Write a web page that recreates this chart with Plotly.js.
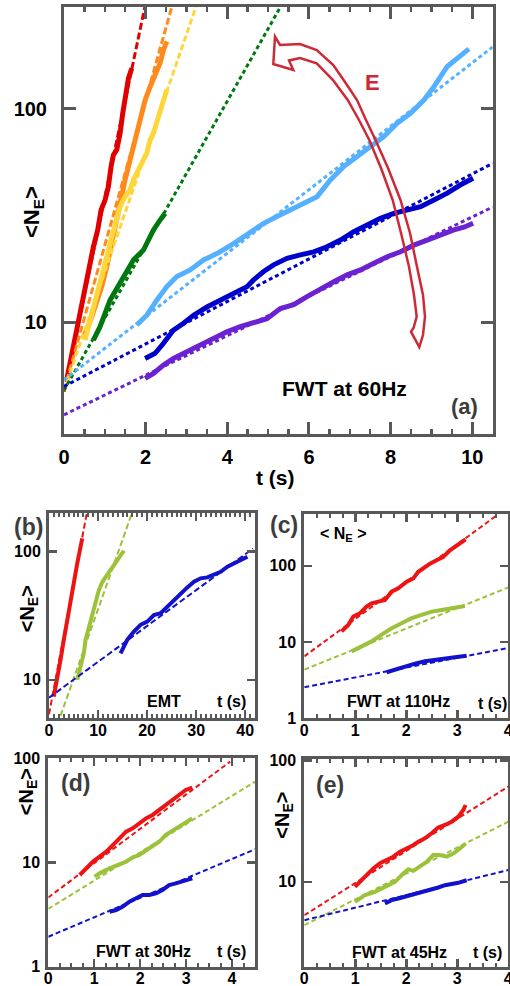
<!DOCTYPE html>
<html><head><meta charset="utf-8">
<script src="https://cdn.plot.ly/plotly-3.0.1.min.js"></script>
<style>html,body{margin:0;padding:0;background:#fff}#plot{width:510px;height:986px}</style>
</head><body><div id="plot"></div>
<script>
// ---------- Panel (a): FWT at 60Hz ----------
const a_red_t = [0.065,0.147,0.27,0.352,0.433,0.54,0.638,0.72,0.826,0.908,1.006,1.087,1.153,1.21,1.292,1.374,1.439,1.505,1.578,1.66];
const a_red_n = [5.37,6.43,8.57,10.3,12.7,15.2,18.9,22.6,27.1,33.6,37.4,43.2,53.7,60.8,64.3,76.9,95.4,118,139,155];
const a_orange_t = [0.474,0.556,0.679,0.801,0.924,1.047,1.128,1.251,1.333,1.415,1.496,1.578,1.66,1.742,1.823,1.905,1.987,2.11,2.232,2.355,2.437,2.518];
const a_orange_n = [8.57,9.2,10.6,12.3,14.7,18.2,21.8,27.1,32.4,40.3,46.5,53.7,62,71.6,85.7,98.9,110,127,147,164,189,207];
const a_yellow_t = [0.515,0.638,0.76,0.883,1.006,1.128,1.251,1.374,1.496,1.619,1.701,1.823,1.946,2.028,2.11,2.191,2.314,2.437,2.518];
const a_yellow_n = [8.26,10.3,12.7,15.8,18.9,23.4,29.1,34.8,38.8,41.7,46.5,51.8,57.7,62,71.6,76.9,92,110,123];
const a_green_t = [0.72,0.883,1.128,1.455,1.70,1.946,2.191,2.355,2.477];
const a_green_n = [8.26,9.55,12.7,16.4,19.6,21.8,27.1,30.2,32.4];
const a_lblue_t = [1.783,2.028,2.273,2.518,2.764,3.091,3.418,3.745,4.154,4.481,4.89,5.217,5.544,5.871,6.198,6.525,6.852,7.179,7.506,7.833,8.16,8.487,8.814,9.06,9.387,9.714,9.918];
const a_lblue_n = [9.72,10.8,12.7,14.7,16.4,17.6,19.6,21.0,23.4,25.7,29.1,31.3,33.6,36.1,38.8,46.5,53.7,59.8,66.6,74.2,85.7,95.4,110,127,158,179,191];
const a_blue_t = [1.987,2.232,2.437,2.682,2.927,3.173,3.5,3.827,4.154,4.481,4.644,4.89,5.135,5.462,5.789,6.116,6.443,6.77,7.097,7.424,7.751,8.078,8.405,8.733,9.06,9.387,9.714,10.02];
const a_blue_n = [6.78,7.16,7.98,9.2,9.9,10.8,11.8,12.7,13.7,14.7,15.8,17.3,18.6,19.95,20.7,21.4,22.6,24.3,26.6,28.6,30.7,32.4,33.6,34.8,37.4,40.3,44.1,47.3];
const a_purple_t = [1.987,2.191,2.437,2.682,3.009,3.336,3.663,3.99,4.317,4.644,4.971,5.298,5.625,5.953,6.28,6.607,6.934,7.261,7.588,7.915,8.242,8.569,8.896,9.223,9.55,9.796,10.02];
const a_purple_n = [5.46,5.77,6.31,6.78,7.29,7.83,8.42,9.04,9.55,9.9,10.4,11.6,12.1,13.2,14.4,15.5,16.7,17.6,18.9,20.3,21.4,23.0,24.3,25.7,27.1,27.9,29.1];
// fits (exponential, straight on log axis): [t_start, t_end], [N_start, N_end]
const a_red_fit_t = [0, 1.98],  a_red_fit_n = [4.73, 300];
const a_orange_fit_t = [0, 2.64], a_orange_fit_n = [4.8, 300];
const a_yellow_fit_t = [0, 3.23], a_yellow_fit_n = [4.8, 300];
const a_green_fit_t = [0, 5.3], a_green_fit_n = [4.8, 300];
const a_lblue_fit_t = [0, 10.5], a_lblue_fit_n = [5.37, 195];
const a_blue_fit_t = [0, 10.5], a_blue_fit_n = [5.01, 55.6];
const a_purple_fit_t = [0, 10.5], a_purple_fit_n = [3.69, 34.7];

// ---------- Panel (b): EMT ----------
const b_red_t = [0.98,1.67,2.35,3.02,3.71,4.39,5.06,5.76,6.43,6.78];
const b_red_n = [7.4,10,14.3,20.5,29.4,42,56.6,81.1,109,127];
const b_green_t = [5.76,6.43,7.1,7.45,8.14,8.82,9.49,10.16,10.86,11.88,12.9,13.92,14.94,15.27];
const b_green_n = [10,12.7,16.1,20.5,26.1,33.1,42,50,58,66,76,88,98,102];
const b_blue_t = [14.59,15.95,17.31,18.67,20.04,21.39,22.76,24.12,25.47,26.84,28.2,29.56,30.92,32.29,33.63,35,36.37,37.71,39.08,40.45];
const b_blue_n = [16.1,20.5,23.8,26.9,28.5,32.1,33.1,37.3,42,47.3,52.7,58.3,62,63.1,65.8,69.8,76.4,81.1,86.1,91.5];
const b_red_fit_t = [0, 7.7], b_red_fit_n = [5.38, 200];
const b_green_fit_t = [2.35, 16.8], b_green_fit_n = [5.24, 195];
const b_blue_fit_t = [0, 41.6], b_blue_fit_n = [7.26, 106];

// ---------- Panel (c): FWT at 110Hz ----------
const c_red_t = [0.732,0.863,0.961,1.092,1.222,1.32,1.451,1.582,1.712,1.843,2.007,2.137,2.235,2.366,2.464,2.595,2.725,2.856,2.954,3.052,3.163];
const c_red_n = [13.8,16.8,21.6,23.9,29.2,32.3,33.9,35.6,45.8,50.6,61.8,68.4,83.5,97,107,118.6,131,160,177,195,223];
const c_green_t = [0.928,1.124,1.32,1.516,1.712,1.908,2.105,2.301,2.497,2.693,2.889,3.085,3.15];
const c_green_n = [7.55,8.77,10.2,12.5,15.2,17.7,20.6,22.7,25.1,26.4,27.8,29.2,29.8];
const c_blue_t = [1.614,1.778,1.974,2.17,2.366,2.562,2.758,2.954,3.183];
const c_blue_n = [4.02,4.35,4.82,5.22,5.6,5.88,6.06,6.31,6.63];
const c_red_fit_t = [0, 3.8], c_red_fit_n = [6.5, 473];
const c_green_fit_t = [0, 4], c_green_fit_n = [4.35, 52.1];
const c_blue_fit_t = [0, 4], c_blue_fit_n = [2.56, 8.35];

// ---------- Panel (d): FWT at 30Hz ----------
const d_red_t = [0.685,0.829,0.973,1.117,1.261,1.405,1.55,1.694,1.838,1.982,2.126,2.27,2.414,2.559,2.703,2.847,2.991,3.135];
const d_red_n = [7.59,8.79,10.2,11.4,12.7,14.7,17.1,19.8,21.3,23.8,26.5,28.6,31.9,35.6,39.8,44.5,49.7,52.3];
const d_green_t = [1.009,1.117,1.333,1.513,1.694,1.838,1.982,2.198,2.306,2.414,2.559,2.667,2.775,2.955,3.135];
const d_green_n = [7.31,7.87,8.79,9.46,10.2,11.2,11.8,13.7,14.7,15.8,18.4,19.8,21.3,23.8,26.5];
const d_blue_t = [1.333,1.477,1.622,1.766,1.91,2.054,2.198,2.342,2.486,2.631,2.775,2.919,3.135];
const d_blue_n = [3.37,3.5,3.77,4.21,4.53,4.88,4.88,5.06,5.45,6.08,6.31,6.55,7.05];
const d_red_fit_t = [0, 3.96], d_red_fit_n = [4.62, 93];
const d_green_fit_t = [0, 4.5], d_green_fit_n = [3.59, 59.6];
const d_blue_fit_t = [0, 4.5], d_blue_fit_n = [1.94, 13.4];

// ---------- Panel (e): FWT at 45Hz ----------
const e_red_t = [0.993,1.124,1.255,1.353,1.484,1.614,1.745,1.876,2.007,2.105,2.235,2.366,2.497,2.627,2.758,2.889,3.02,3.118,3.163];
const e_red_n = [9.1,10.3,11.7,12.9,14.2,15.1,16.1,17.7,18.8,19.7,21.4,22.8,25.1,28.1,29.4,31.3,34.4,39.1,43];
const e_green_t = [0.993,1.19,1.386,1.582,1.778,1.941,2.039,2.137,2.268,2.399,2.529,2.66,2.791,2.922,3.052,3.163];
const e_green_n = [6.84,7.76,8.27,9.1,10,11.7,12.7,12.3,13.5,14.6,16.6,16.6,16.1,17.1,18.8,20.7];
const e_blue_t = [1.582,1.712,1.843,1.974,2.105,2.235,2.366,2.497,2.627,2.758,2.889,3.02,3.183];
const e_blue_n = [6.62,7.06,7.28,7.52,7.76,8.01,8.27,8.54,8.98,9.38,9.56,9.81,10.3];
const e_red_fit_t = [0, 4], e_red_fit_n = [5.3, 61];
const e_green_fit_t = [0, 4], e_green_fit_n = [4.39, 31.3];
const e_blue_fit_t = [0, 4], e_blue_fit_n = [4.82, 12.5];

// ---------- styling ----------
const W = 510, H = 986;
const FONT = 'Liberation Sans, Arial, sans-serif';
const AX = '#585858';
const C = {red:'#e00000', orange:'#ff8a1c', yellow:'#ffd63a', green:'#00780f', lblue:'#55b0ff', blue:'#0000cc', purple:'#6a22d2',
           r2:'#ee1414', g2:'#9bc23a', b2:'#1212cc'};
const px = x => x / W, py = y => 1 - y / H;

const traces = [];
function data(xa, ya, t, n, color, w) {
  traces.push({x:t, y:n, xaxis:xa, yaxis:ya, type:'scatter', mode:'lines', line:{color, width:w}, hoverinfo:'skip'});
}
function fit(xa, ya, t, n, color, w, dash) {
  traces.push({x:t, y:n, xaxis:xa, yaxis:ya, type:'scatter', mode:'lines', line:{color, width:w, dash}, hoverinfo:'skip'});
}
// (a)
data('x','y',a_red_t,a_red_n,C.red,5);
data('x','y',a_orange_t,a_orange_n,C.orange,5);
data('x','y',a_yellow_t,a_yellow_n,C.yellow,5);
data('x','y',a_green_t,a_green_n,C.green,5);
data('x','y',a_lblue_t,a_lblue_n,C.lblue,5);
data('x','y',a_blue_t,a_blue_n,C.blue,5);
data('x','y',a_purple_t,a_purple_n,C.purple,5);
fit('x','y',a_red_fit_t,a_red_fit_n,C.red,3,'7px,3px');
fit('x','y',a_orange_fit_t,a_orange_fit_n,C.orange,3,'7px,3px');
fit('x','y',a_yellow_fit_t,a_yellow_fit_n,C.yellow,3,'6px,3px');
fit('x','y',a_green_fit_t,a_green_fit_n,C.green,3,'4px,3px');
fit('x','y',a_lblue_fit_t,a_lblue_fit_n,C.lblue,3,'4px,3px');
fit('x','y',a_blue_fit_t,a_blue_fit_n,C.blue,3,'4px,3px');
fit('x','y',a_purple_fit_t,a_purple_fit_n,C.purple,3,'4px,3px');
// (b)
data('x2','y2',b_red_t,b_red_n,C.r2,4);
data('x2','y2',b_green_t,b_green_n,C.g2,4);
data('x2','y2',b_blue_t,b_blue_n,C.b2,4);
fit('x2','y2',b_red_fit_t,b_red_fit_n,C.r2,2,'6px,3px');
fit('x2','y2',b_green_fit_t,b_green_fit_n,C.g2,2,'6px,3px');
fit('x2','y2',b_blue_fit_t,b_blue_fit_n,C.b2,2,'6px,3px');
// (c)
data('x3','y3',c_red_t,c_red_n,C.r2,4);
data('x3','y3',c_green_t,c_green_n,C.g2,4);
data('x3','y3',c_blue_t,c_blue_n,C.b2,4);
fit('x3','y3',c_red_fit_t,c_red_fit_n,C.r2,2,'5px,3px');
fit('x3','y3',c_green_fit_t,c_green_fit_n,C.g2,2,'5px,3px');
fit('x3','y3',c_blue_fit_t,c_blue_fit_n,C.b2,2,'5px,3px');
// (d)
data('x4','y4',d_red_t,d_red_n,C.r2,4);
data('x4','y4',d_green_t,d_green_n,C.g2,4);
data('x4','y4',d_blue_t,d_blue_n,C.b2,4);
fit('x4','y4',d_red_fit_t,d_red_fit_n,C.r2,2,'5px,3px');
fit('x4','y4',d_green_fit_t,d_green_fit_n,C.g2,2,'5px,3px');
fit('x4','y4',d_blue_fit_t,d_blue_fit_n,C.b2,2,'5px,3px');
// (e)
data('x5','y5',e_red_t,e_red_n,C.r2,4);
data('x5','y5',e_green_t,e_green_n,C.g2,4);
data('x5','y5',e_blue_t,e_blue_n,C.b2,4);
fit('x5','y5',e_red_fit_t,e_red_fit_n,C.r2,2,'5px,3px');
fit('x5','y5',e_green_fit_t,e_green_fit_n,C.g2,2,'5px,3px');
fit('x5','y5',e_blue_fit_t,e_blue_fit_n,C.b2,2,'5px,3px');

function logMinor(range) {          // 2..9 x 10^d positions inside the log range
  const out = [];
  for (let d = Math.floor(range[0]) - 1; d <= Math.ceil(range[1]); d++)
    for (let k = 2; k <= 9; k++) { const v = k * Math.pow(10, d), l = Math.log10(v);
      if (l > range[0] + 0.01 && l < range[1] - 0.005) out.push(v); }
  return out;
}
function xax(box, range, dtick, mdtick, anchor, big) {
  return {domain:[px(box[0]), px(box[2])], range, anchor, type:'linear', tickmode:'linear', tick0:0, dtick,
    ticks:'inside', ticklen: big?12:8, tickwidth: big?3:2.5, tickcolor:AX,
    minor:{ticks:'inside', dtick:mdtick, ticklen: big?5:4, tickwidth: big?2.5:2, tickcolor:AX, showgrid:false},
    showline:true, linewidth:3, linecolor:AX, mirror:'allticks', showgrid:false, zeroline:false,
    ticklabelstandoff: big?3:-5, ticklabeloverflow:'allow',
    tickfont:{family:FONT, size: big?20:16, color:'#000', weight:'bold'}, fixedrange:true};
}
function yax(box, range, anchor, big) {
  return {domain:[py(box[3]), py(box[1])], range, anchor, type:'log', dtick:1,
    ticks:'inside', ticklen: big?12:8, tickwidth: big?3:2.5, tickcolor:AX,
    showline:true, linewidth:3, linecolor:AX, mirror:'allticks', showgrid:false, zeroline:false,
    ticklabelstandoff: big?10:2,
    tickfont:{family:FONT, size: big?20:16, color:'#000', weight:'bold'}, fixedrange:true};
}
// overlay axis that only carries the short minor ticks of a log axis
function yminor(base, range, anchor, big) {
  return {overlaying:base, anchor, range, type:'log', tickmode:'array', tickvals:logMinor(range),
    ticks:'inside', ticklen: big?6:4, tickwidth: big?2.5:2, tickcolor:AX, showticklabels:false,
    showline:true, linewidth:3, linecolor:AX, mirror:'allticks', showgrid:false, zeroline:false, fixedrange:true};
}
const A = [64,7,492.7,434], B = [49,513.3,255,718.3], Cc = [304.3,514,508.3,718.3], D = [48.3,758.3,255,966.7], E = [304.3,759.3,508.3,966.7];
const rA = [Math.log10(3),Math.log10(300)], rB = [0.7,2.3], rC = [0,2.68], rD = [0,2], rE = [0.3,2.01];

function ann(text, x, y, size, color, angle, weight) {
  return {text, xref:'paper', yref:'paper', x:px(x), y:py(y), xanchor:'center', yanchor:'middle', showarrow:false,
    textangle: angle||0, font:{family:FONT, size, color: color||'#000', weight: weight||'bold'}};
}
const NE = '&lt;N<sub>E</sub>&gt;';
const annotations = [
  ann('t (s)', 275, 478, 21),
  ann(NE, 33, 212, 22, '#000', -90),
  ann('FWT at 60Hz', 344.5, 388.3, 21),
  ann('(a)', 464.5, 406.7, 22, '#3c3c3c'),
  ann('E', 372, 82.7, 22, '#cc2a36'),
  ann('(b)', 28.3, 526.7, 23, '#3c3c3c'),
  ann(NE, 28.3, 609, 20, '#000', -90),
  ann('EMT', 164.3, 701.7, 16),
  ann('t (s)', 231, 701.7, 16),
  ann('(c)', 284, 525, 23, '#3c3c3c'),
  ann('&lt; N<sub>E</sub> &gt;', 343, 534, 16),
  ann('FWT at 110Hz', 398.8, 701.7, 16),
  ann('t (s)', 492, 703, 16),
  ann('(d)', 75.7, 783.3, 23, '#3c3c3c'),
  ann(NE, 27.5, 791.7, 20, '#000', -90),
  ann('FWT at 30Hz', 143.8, 951.7, 16),
  ann('t (s)', 231, 951.7, 16),
  ann('(e)', 330, 785, 23, '#3c3c3c'),
  ann(NE, 284, 815.7, 20, '#000', -90),
  ann('FWT at 45Hz', 399, 952, 16),
  ann('t (s)', 487.5, 952, 16)
];

// decorative hollow curved arrow labelled E (pixel outline -> paper coords)
const arrowOuter = [[280,45],[300,44],[316.7,50],[333.3,65],[345,82],[357,100],[366,120],[375.5,140],[388,168],[400.5,200],[410,233],[417,266.7],[423,295],[425,316.7],[423,335]];
const arrowInner = [[289,60.5],[300,58],[316.7,63.3],[333,80],[347.7,100],[359,120],[369.3,140],[381,168],[392.7,200],[401,233],[409,266.7],[414,295],[416.7,316.7],[413.5,328],[411,331.7]];
const arrowOutline = [[275,36.7],[273.3,64],[293.3,70]].concat(arrowInner, [[419.3,347]], arrowOuter.slice().reverse());
const arrowPath = arrowOutline.map((p,i)=> (i?'L':'M') + px(p[0]).toFixed(5) + ',' + py(p[1]).toFixed(5)).join(' ') + ' Z';

const layout = {
  width:W, height:H, margin:{l:0,r:0,t:0,b:0}, paper_bgcolor:'#fff', plot_bgcolor:'#fff', showlegend:false,
  xaxis: xax(A,[0,10.5],2,0.5,'y',true),
  yaxis: yax(A,rA,'x',true),
  xaxis2: xax(B,[0,42],10,1,'y2',false),
  yaxis2: yax(B,rB,'x2',false),
  xaxis3: xax(Cc,[0,4],1,0.25,'y3',false),
  yaxis3: yax(Cc,rC,'x3',false),
  xaxis4: xax(D,[0,4.5],1,0.25,'y4',false),
  yaxis4: yax(D,rD,'x4',false),
  xaxis5: xax(E,[0,4],1,0.25,'y5',false),
  yaxis5: yax(E,rE,'x5',false),
  yaxis6: yminor('y',rA,'x',true),
  yaxis7: yminor('y2',rB,'x2',false),
  yaxis8: yminor('y3',rC,'x3',false),
  yaxis9: yminor('y4',rD,'x4',false),
  yaxis10: yminor('y5',rE,'x5',false),
  annotations,
  shapes:[{type:'path', xref:'paper', yref:'paper', path:arrowPath, line:{color:'#cc2a36', width:2.5}, fillcolor:'rgba(0,0,0,0)', layer:'above'}]
};
Plotly.newPlot('plot', traces, layout, {staticPlot:true, displayModeBar:false});
</script>
</body></html>
